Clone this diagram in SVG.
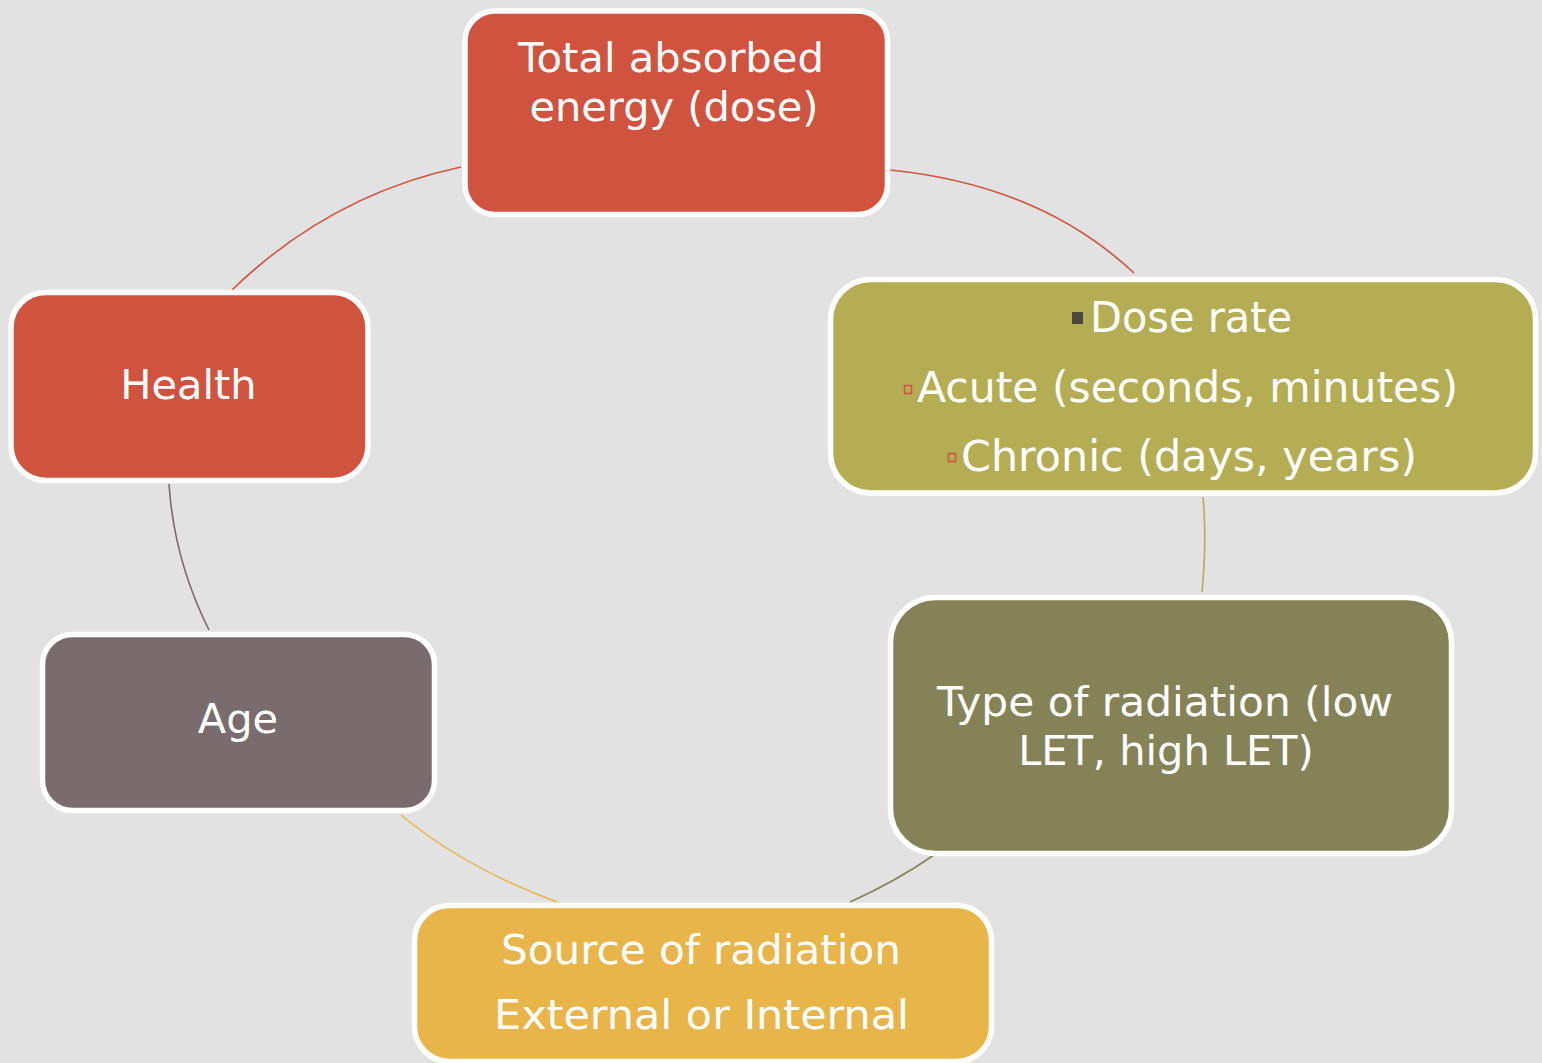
<svg xmlns="http://www.w3.org/2000/svg" width="1542" height="1063" viewBox="0 0 1542 1063">
<style>
.box{stroke:#FFFFFF;stroke-width:5.5}
.t{font-family:"DejaVu Sans","Verdana",sans-serif;font-size:41.5px;fill:#FFFFFF;text-anchor:middle}
.s{font-family:"DejaVu Sans","Verdana",sans-serif;font-size:42px;fill:#FFFFFF;text-anchor:start}
.c{fill:none;stroke-width:1.6}
</style>
<rect x="0" y="0" width="1542" height="1063" fill="#E2E2E2"/>
<g id="connectors">
<path class="c" stroke="#D0533F" d="M890,170 Q1040,185 1134,273"/>
<path class="c" stroke="#B5AD53" d="M1203,497 Q1207,540 1202,592"/>
<path class="c" stroke="#858257" d="M934,855 Q895,882 850,902"/>
<path class="c" stroke="#E8B54B" d="M401,815 Q465,868 557,902"/>
<path class="c" stroke="#796B6E" d="M169,484 Q174,560 209,630"/>
<path class="c" stroke="#D0533F" d="M232,290 Q330,195 461,167"/>
</g>
<g id="node-dose">
<rect class="box" x="465" y="11" width="422.5" height="203.5" rx="30" fill="#D0533F"/>
<text class="t" x="671" y="72" textLength="306" lengthAdjust="spacingAndGlyphs">Total absorbed</text>
<text class="t" x="674" y="121">energy (dose)</text>
</g>
<g id="node-doserate">
<rect class="box" x="830.5" y="279.5" width="705" height="213.5" rx="40" fill="#B5AD53"/>
<rect x="1072" y="312" width="11" height="12" fill="#4E463C"/>
<text class="s" x="1090" y="332" textLength="202" lengthAdjust="spacingAndGlyphs">Dose rate</text>
<rect x="904.5" y="385.5" width="7" height="8" fill="none" stroke="#D0533F" stroke-width="1.5"/>
<text class="s" x="917" y="402" textLength="541" lengthAdjust="spacingAndGlyphs">Acute (seconds, minutes)</text>
<rect x="948.5" y="453.5" width="7" height="8" fill="none" stroke="#D0533F" stroke-width="1.5"/>
<text class="s" x="961" y="471" textLength="456" lengthAdjust="spacingAndGlyphs">Chronic (days, years)</text>
</g>
<g id="node-type">
<rect class="box" x="890.5" y="597.5" width="561" height="256" rx="45" fill="#858257"/>
<text class="t" x="1165" y="716" textLength="456" lengthAdjust="spacingAndGlyphs">Type of radiation (low</text>
<text class="t" x="1166" y="765">LET, high LET)</text>
</g>
<g id="node-source">
<rect class="box" x="414.5" y="905.5" width="577" height="156" rx="35" fill="#E8B54B"/>
<text class="t" x="701" y="964" textLength="400" lengthAdjust="spacingAndGlyphs">Source of radiation</text>
<text class="t" x="701.5" y="1029" textLength="415" lengthAdjust="spacingAndGlyphs">External or Internal</text>
</g>
<g id="node-age">
<rect class="box" x="42.5" y="634.5" width="392" height="176" rx="30" fill="#796B6E"/>
<text class="t" x="238" y="733">Age</text>
</g>
<g id="node-health">
<rect class="box" x="11" y="292.5" width="357" height="188" rx="35" fill="#D0533F"/>
<text class="t" x="188.5" y="399">Health</text>
</g>
</svg>
